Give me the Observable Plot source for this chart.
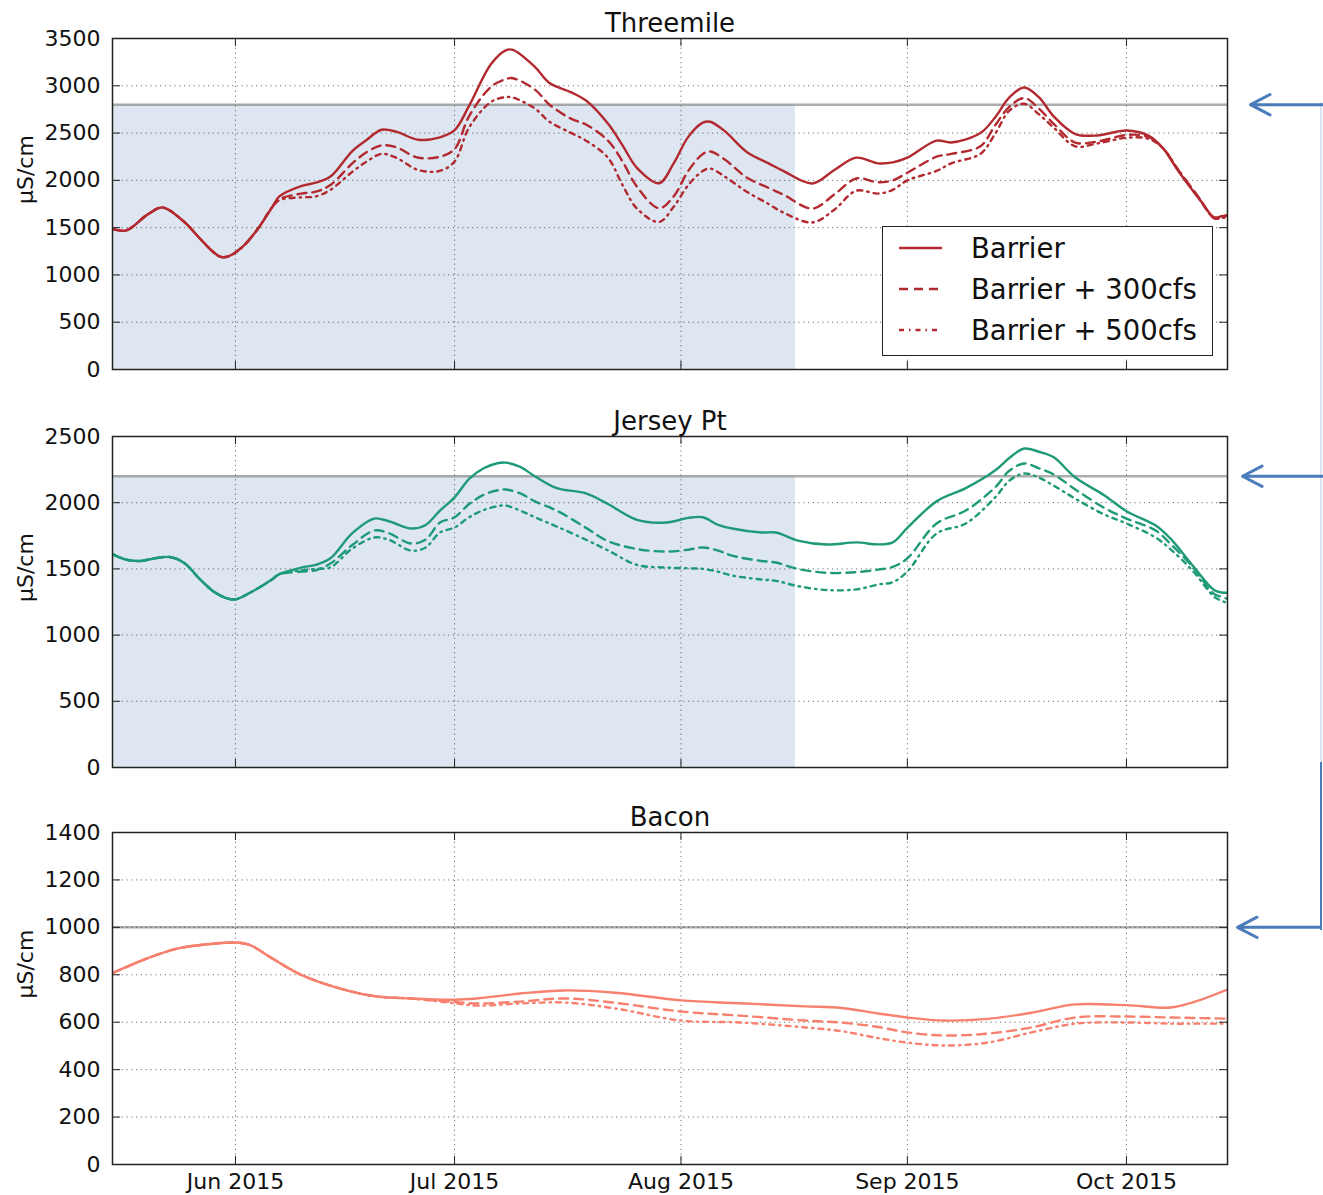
<!DOCTYPE html>
<html><head><meta charset="utf-8">
<script src="https://cdn.jsdelivr.net/npm/d3@7"></script>
<script src="https://cdn.jsdelivr.net/npm/@observablehq/plot@0.6"></script>
<style>
body{margin:0;background:#fff;}
#wrap{position:relative;width:1323px;height:1195px;overflow:hidden;font-family:"DejaVu Sans",sans-serif;color:#111;}
.panel{position:absolute;left:0;}
#legend{position:absolute;left:882px;top:226px;width:331px;height:130px;box-sizing:border-box;border:1.5px solid #222;background:#fff;}
.bracket{position:absolute;left:1320px;width:2px;background:#4a7cba;}
</style></head><body><div id="wrap"></div>
<script>
// ---------- data ----------
const scenarios = ["Barrier", "Barrier + 300cfs", "Barrier + 500cfs"];
const monthTicks = ["2015-06-01", "2015-07-01", "2015-08-01", "2015-09-01", "2015-10-01"];
const xDomain = ["2015-05-15T04:00Z", "2015-10-14T20:00Z"];
const shadeSpan = ["2015-05-15T04:00Z", "2015-08-16T16:00Z"];

const threemileTicks = [0, 500, 1000, 1500, 2000, 2500, 3000, 3500];
const jerseyTicks = [0, 500, 1000, 1500, 2000, 2500];
const baconTicks = [0, 200, 400, 600, 800, 1000, 1200, 1400];

const threemileThreshold = 2800;
const jerseyThreshold = 2200;
const baconThreshold = 1000;

const threemileDates = ["2015-05-15","2015-05-17","2015-05-20","2015-05-22","2015-05-25","2015-05-27","2015-05-29","2015-05-30","2015-05-31","2015-06-02","2015-06-04","2015-06-06",
"2015-06-07","2015-06-10","2015-06-12","2015-06-14","2015-06-17","2015-06-19","2015-06-21","2015-06-23","2015-06-26","2015-06-29",
"2015-07-01","2015-07-03","2015-07-06","2015-07-08","2015-07-09","2015-07-12","2015-07-14","2015-07-17","2015-07-19","2015-07-22","2015-07-24","2015-07-26","2015-07-29","2015-07-31",
"2015-08-02","2015-08-04","2015-08-05","2015-08-07","2015-08-10","2015-08-13","2015-08-15","2015-08-19","2015-08-22","2015-08-25","2015-08-28","2015-08-30",
"2015-09-01","2015-09-05","2015-09-07","2015-09-11","2015-09-13","2015-09-15","2015-09-17","2015-09-19","2015-09-21","2015-09-24","2015-09-27",
"2015-10-01","2015-10-04","2015-10-06","2015-10-08","2015-10-11","2015-10-13","2015-10-14","2015-10-15"];
const threemileBarrier = [1490,1470,1640,1713,1560,1396,1240,1190,1195,1300,1480,1713,
1830,1940,1975,2040,2310,2430,2535,2515,2430,2455,
2530,2790,3230,3375,3380,3200,3030,2930,2844,2600,2370,2130,1970,2180,
2460,2610,2620,2520,2300,2180,2100,1967,2110,2240,2180,2190,
2240,2420,2400,2500,2665,2880,2982,2880,2680,2490,2475,
2527,2474,2340,2110,1800,1610,1620,1640];
const threemile300 = [1490,1470,1640,1713,1560,1396,1240,1190,1195,1300,1480,1713,
1800,1860,1880,1950,2180,2300,2370,2350,2240,2250,
2330,2680,2990,3070,3080,2960,2800,2650,2590,2420,2200,1930,1705,1830,
2100,2280,2305,2220,2030,1920,1850,1702,1850,2020,1980,2000,
2080,2250,2280,2360,2580,2780,2870,2760,2600,2400,2410,
2480,2460,2340,2120,1810,1600,1610,1630];
const threemile500 = [1490,1470,1640,1713,1560,1396,1240,1190,1195,1300,1480,1713,
1790,1820,1830,1900,2090,2200,2280,2240,2110,2100,
2200,2560,2830,2880,2875,2760,2620,2500,2420,2240,1950,1700,1560,1720,
1950,2100,2125,2040,1880,1750,1660,1555,1690,1890,1860,1900,
2000,2100,2180,2280,2490,2740,2810,2700,2560,2360,2390,
2450,2440,2340,2120,1800,1600,1600,1620];

const jerseyDates = ["2015-05-15","2015-05-17","2015-05-19","2015-05-21","2015-05-23","2015-05-25","2015-05-27","2015-05-29","2015-05-31","2015-06-01","2015-06-03","2015-06-06",
"2015-06-07","2015-06-10","2015-06-12","2015-06-14","2015-06-17","2015-06-20","2015-06-22","2015-06-25","2015-06-27","2015-06-29",
"2015-07-01","2015-07-03","2015-07-05","2015-07-07","2015-07-08","2015-07-10","2015-07-12","2015-07-15","2015-07-19","2015-07-22","2015-07-26","2015-07-30",
"2015-08-02","2015-08-04","2015-08-06","2015-08-08","2015-08-12","2015-08-14","2015-08-17","2015-08-21","2015-08-25","2015-08-28","2015-08-30",
"2015-09-01","2015-09-05","2015-09-09","2015-09-13","2015-09-15","2015-09-17","2015-09-19","2015-09-21","2015-09-24","2015-09-28",
"2015-10-01","2015-10-05","2015-10-07","2015-10-10","2015-10-13","2015-10-14","2015-10-15"];
const jerseyBarrier = [1616,1570,1560,1580,1590,1545,1430,1330,1275,1270,1320,1420,
1460,1510,1530,1580,1770,1880,1860,1805,1830,1940,
2040,2180,2260,2300,2303,2270,2200,2110,2070,1990,1870,1850,
1885,1890,1835,1805,1775,1775,1714,1684,1700,1685,1700,
1810,2010,2110,2243,2340,2409,2385,2345,2190,2055,
1935,1828,1730,1530,1340,1322,1320];
const jersey300 = [1616,1570,1560,1580,1590,1545,1430,1330,1275,1270,1320,1420,
1460,1480,1490,1540,1680,1790,1770,1692,1720,1850,
1890,1990,2060,2095,2100,2070,2010,1940,1810,1710,1650,1631,
1645,1662,1640,1600,1560,1548,1500,1470,1475,1495,1515,
1580,1843,1941,2115,2243,2296,2260,2215,2100,1960,
1880,1790,1690,1520,1310,1290,1270];
const jersey500 = [1616,1570,1560,1580,1590,1545,1430,1330,1275,1270,1320,1420,
1460,1490,1500,1511,1654,1737,1720,1639,1660,1775,
1813,1890,1945,1975,1979,1940,1890,1820,1720,1640,1530,1510,
1505,1500,1480,1450,1420,1410,1370,1340,1345,1382,1400,
1480,1767,1843,2039,2168,2220,2190,2130,2030,1910,
1843,1737,1650,1490,1290,1260,1240];

const baconDates = ["2015-05-15","2015-05-20","2015-05-24","2015-05-28","2015-06-01","2015-06-03","2015-06-06","2015-06-10","2015-06-15","2015-06-20","2015-06-25",
"2015-07-01","2015-07-04","2015-07-10","2015-07-16","2015-07-23",
"2015-08-01","2015-08-09","2015-08-18","2015-08-23","2015-08-28",
"2015-09-01","2015-09-06","2015-09-12","2015-09-18","2015-09-24",
"2015-10-01","2015-10-07","2015-10-10","2015-10-15"];
const baconBarrier = [805,870,910,928,936,925,870,800,745,710,700,
695,700,721,734,724,
692,680,667,660,637,
620,607,614,640,675,
672,662,683,740];
const bacon300 = [805,870,910,928,936,925,870,800,745,710,700,
685,679,687,700,682,
645,628,607,598,580,
557,544,552,578,620,
624,620,618,615];
const bacon500 = [805,870,910,928,936,925,870,800,745,710,700,
680,670,679,683,658,
607,599,578,562,533,
514,502,514,557,594,
599,594,594,594];

// ---------- drawing ----------
const W = 1323, ML = 112, MR = 96, PW = W - ML - MR;
const months = monthTicks.map(d => new Date(d + "T00:00Z"));
const xDom = xDomain.map(d => new Date(d));
const xs = Plot.scale({x: {type: "utc", domain: xDom, range: [ML, W - MR]}});
const dashStyles = [null, "9,6", "5,5,1.5,5"];
const wrap = document.getElementById("wrap");

function makePanel(cfg) {
  const H = cfg.height - cfg.mt - cfg.mb;
  const dates = cfg.dates.map(d => new Date(d + "T00:00Z"));
  const marks = [];
  if (cfg.shade) {
    marks.push(Plot.rect([{x1: new Date(shadeSpan[0]), x2: new Date(shadeSpan[1]), y1: 0, y2: cfg.threshold}],
      {x1: "x1", x2: "x2", y1: "y1", y2: "y2", fill: "#b0c4de", fillOpacity: 0.42, clip: true}));
  }
  marks.push(Plot.ruleY([cfg.threshold], {stroke: "#8c8c8c", strokeOpacity: 0.7, strokeWidth: 2.5}));
  marks.push(Plot.gridY(cfg.yTicks, {stroke: "#444", strokeOpacity: 0.85, strokeWidth: 0.9, strokeDasharray: "1.2,3.6"}));
  marks.push(Plot.gridX(months, {stroke: "#444", strokeOpacity: 0.85, strokeWidth: 0.9, strokeDasharray: "1.2,3.6"}));
  cfg.series.forEach((vals, k) => {
    marks.push(Plot.line(dates.map((d, i) => ({date: d, value: vals[i], s: scenarios[k]})),
      {x: "date", y: "value", stroke: cfg.color, strokeWidth: 2.4, strokeDasharray: dashStyles[k], curve: "catmull-rom", clip: true}));
  });
  marks.push(Plot.frame({stroke: "#222", strokeWidth: 1.5}));
  marks.push(Plot.tickY(cfg.yTicks, {y: d => d, insetRight: PW - 8, stroke: "#222"}));
  marks.push(Plot.tickY(cfg.yTicks, {y: d => d, insetLeft: PW - 8, stroke: "#222"}));
  marks.push(Plot.tickX(months, {x: d => d, insetTop: H - 8, stroke: "#222"}));
  marks.push(Plot.tickX(months, {x: d => d, insetBottom: H - 8, stroke: "#222"}));
  marks.push(Plot.axisY(cfg.yTicks, {tickSize: 0, tickPadding: 12, fontSize: 22, label: null, tickFormat: d3.format("d")}));
  if (cfg.showX) {
    marks.push(Plot.axisX(months, {tickSize: 0, tickPadding: 9, fontSize: 22, tickFormat: d3.utcFormat("%b %Y"), label: null}));
  }
  marks.push(Plot.text([cfg.title], {text: d => d, frameAnchor: "top", dy: -7, lineAnchor: "bottom", fontSize: 26}));
  marks.push(Plot.text(["μS/cm"], {text: d => d, frameAnchor: "left", dx: -87, rotate: -90, lineAnchor: "middle", fontSize: 22}));
  const tail = xs.invert(cfg.arrowTail), tip = xs.invert(cfg.arrowTip);
  marks.push(Plot.arrow([cfg.threshold], {x1: () => tail, x2: () => tip, y1: d => d, y2: d => d,
    stroke: "#4a7cba", strokeWidth: 3, headLength: 11, headAngle: 55}));

  const svg = Plot.plot({
    width: W, height: cfg.height,
    marginLeft: ML, marginRight: MR, marginTop: cfg.mt, marginBottom: cfg.mb,
    x: {type: "utc", domain: xDom, axis: cfg.showX ? undefined : null},
    y: {domain: [cfg.yTicks[0], cfg.yTicks[cfg.yTicks.length - 1]]},
    style: {fontFamily: "DejaVu Sans", fontSize: "22px", color: "#111", background: "transparent", overflow: "visible"},
    marks
  });
  svg.classList.add("panel");
  svg.style.top = cfg.top + "px";
  wrap.appendChild(svg);
}

makePanel({title: "Threemile", dates: threemileDates, series: [threemileBarrier, threemile300, threemile500],
  color: "#b22a2f", yTicks: threemileTicks, threshold: threemileThreshold, shade: true, showX: false,
  top: 0, height: 400, mt: 38, mb: 31, arrowTail: 1325, arrowTip: 1250});
makePanel({title: "Jersey Pt", dates: jerseyDates, series: [jerseyBarrier, jersey300, jersey500],
  color: "#1f9a78", yTicks: jerseyTicks, threshold: jerseyThreshold, shade: true, showX: false,
  top: 400, height: 396, mt: 36, mb: 29, arrowTail: 1325, arrowTip: 1242});
makePanel({title: "Bacon", dates: baconDates, series: [baconBarrier, bacon300, bacon500],
  color: "#f7806f", yTicks: baconTicks, threshold: baconThreshold, shade: false, showX: true,
  top: 796, height: 399, mt: 36, mb: 31, arrowTail: 1320, arrowTip: 1237});

// bracket joining the arrows
const b1 = document.createElement("div"); b1.className = "bracket";
b1.style.top = "102px"; b1.style.height = "665px"; b1.style.opacity = "0.2"; wrap.appendChild(b1);
const b2 = document.createElement("div"); b2.className = "bracket";
b2.style.top = "762px"; b2.style.height = "168px"; wrap.appendChild(b2);

// legend
const legend = document.createElement("div"); legend.id = "legend";
const ls = d3.create("svg").attr("width", 328).attr("height", 127);
scenarios.forEach((s, k) => {
  const y = 21 + k * 41;
  ls.append("line").attr("x1", 16).attr("x2", 59).attr("y1", y).attr("y2", y)
    .attr("stroke", "#b22a2f").attr("stroke-width", 2.4).attr("stroke-dasharray", dashStyles[k]);
  ls.append("text").attr("x", 88).attr("y", y).attr("dy", "0.35em")
    .attr("font-family", "DejaVu Sans").attr("font-size", 27.5).attr("fill", "#111").text(s);
});
legend.appendChild(ls.node());
wrap.appendChild(legend);
</script></body></html>
